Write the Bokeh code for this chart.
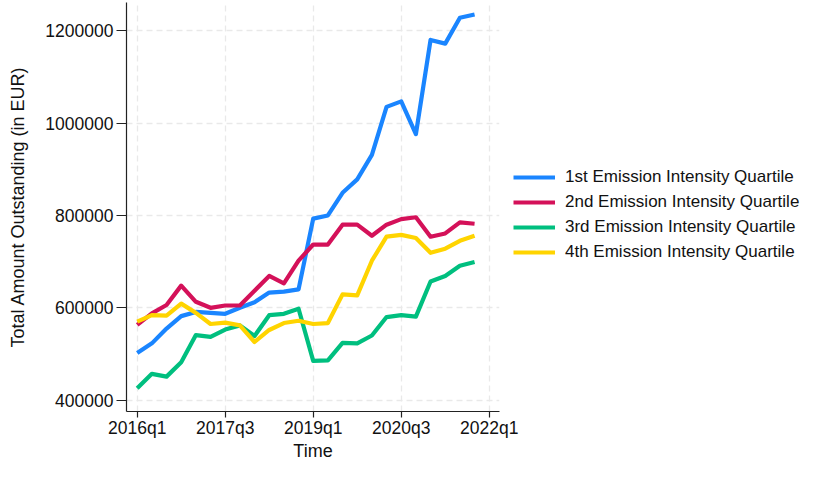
from bokeh.plotting import figure
from bokeh.models import Range1d, FixedTicker, Legend, LegendItem, ColumnDataSource
from bokeh.embed import file_html
from bokeh.resources import INLINE

# ---- data ----
start_year = 2016
n_quarters = 24
quarters = [f"{start_year + i // 4}q{i % 4 + 1}" for i in range(n_quarters)]

series_names = [
    "1st Emission Intensity Quartile",
    "2nd Emission Intensity Quartile",
    "3rd Emission Intensity Quartile",
    "4th Emission Intensity Quartile",
]
q1_values = [502000, 523000, 555000, 582000, 591000, 589000, 587000, 600000,
             612000, 633000, 635000, 640000, 793000, 800000, 849000, 878000,
             931000, 1035000, 1047000, 976000, 1180000, 1172000, 1228000, 1235000]
q2_values = [563000, 588000, 606000, 648000, 613000, 600000, 605000, 605000,
             637000, 669000, 653000, 702000, 737000, 737000, 780000, 780000,
             756000, 780000, 792000, 796000, 754000, 761000, 785000, 782000]
q3_values = [426000, 457000, 451000, 482000, 541000, 537000, 553000, 562000,
             539000, 584000, 587000, 598000, 485000, 486000, 524000, 523000,
             540000, 580000, 584000, 581000, 657000, 669000, 691000, 699000]
q4_values = [570000, 584000, 583000, 609000, 589000, 565000, 568000, 562000,
             526000, 552000, 567000, 572000, 565000, 567000, 629000, 627000,
             702000, 754000, 758000, 751000, 719000, 728000, 745000, 756000]
series_values = [q1_values, q2_values, q3_values, q4_values]
colors = ["#1a85ff", "#d41159", "#00bf7f", "#ffd400"]

x_tick_labels = ["2016q1", "2017q3", "2019q1", "2020q3", "2022q1"]
y_ticks = [400000, 600000, 800000, 1000000, 1200000]


def q_index(label):
    y, q = label.split("q")
    return (int(y) - start_year) * 4 + int(q) - 1


x_ticks = [q_index(t) for t in x_tick_labels]
xs = [q_index(q) for q in quarters]

FONT = "Liberation Sans"

p = figure(frame_width=373, frame_height=409, output_backend="svg",
           toolbar_location=None,
           x_range=Range1d(-0.73, 24.70), y_range=Range1d(375500, 1261000),
           min_border_left=126, min_border_right=0, min_border_top=2,
           min_border_bottom=20)
p.outline_line_color = None
p.background_fill_color = "white"
p.border_fill_color = "white"

renderers = []
for name, vals, col in zip(series_names, series_values, colors):
    src = ColumnDataSource(dict(x=xs, y=vals))
    r = p.line("x", "y", source=src, line_color=col, line_width=4.2,
               line_join="round")
    renderers.append((name, r))

# grid
for g in (p.xgrid, p.ygrid):
    g.grid_line_color = "#e9e9e9"
    g.grid_line_dash = "6 4"
    g.grid_line_width = 1.3

# x axis
p.xaxis.ticker = FixedTicker(ticks=x_ticks)
p.xaxis.major_label_overrides = {t: l for t, l in zip(x_ticks, x_tick_labels)}
p.xaxis.axis_label = "Time"
p.xaxis.major_tick_out = 6
p.xaxis.major_tick_in = 0
p.xaxis.major_label_standoff = 0
p.xaxis.axis_label_standoff = 0

# y axis
p.yaxis.ticker = FixedTicker(ticks=y_ticks)
p.yaxis.major_label_overrides = {t: str(t) for t in y_ticks}
p.yaxis.axis_label = "Total Amount Outstanding (in EUR)"
p.yaxis.major_tick_out = 10
p.yaxis.major_tick_in = 0
p.yaxis.major_label_standoff = 3
p.yaxis.axis_label_standoff = 14

for ax in (p.xaxis[0], p.yaxis[0]):
    ax.minor_tick_line_color = None
    ax.axis_line_color = "#222222"
    ax.major_tick_line_color = "#222222"
    ax.axis_line_width = 1.2
    ax.major_tick_line_width = 1.2
    ax.major_label_text_font = FONT
    ax.major_label_text_font_size = "17.5px"
    ax.major_label_text_color = "#111111"
    ax.axis_label_text_font = FONT
    ax.axis_label_text_font_size = "18px"
    ax.axis_label_text_font_style = "normal"
    ax.axis_label_text_color = "#111111"

legend = Legend(items=[LegendItem(label=n, renderers=[r]) for n, r in renderers],
                location=(14, 149), padding=6, margin=0, spacing=5,
                glyph_width=42, glyph_height=20, label_height=20,
                label_standoff=10, label_text_font=FONT,
                label_text_font_size="17px", label_text_color="#111111",
                border_line_color=None, background_fill_alpha=0)
p.add_layout(legend, "right")

open("out.html", "w").write(file_html(p, INLINE))
